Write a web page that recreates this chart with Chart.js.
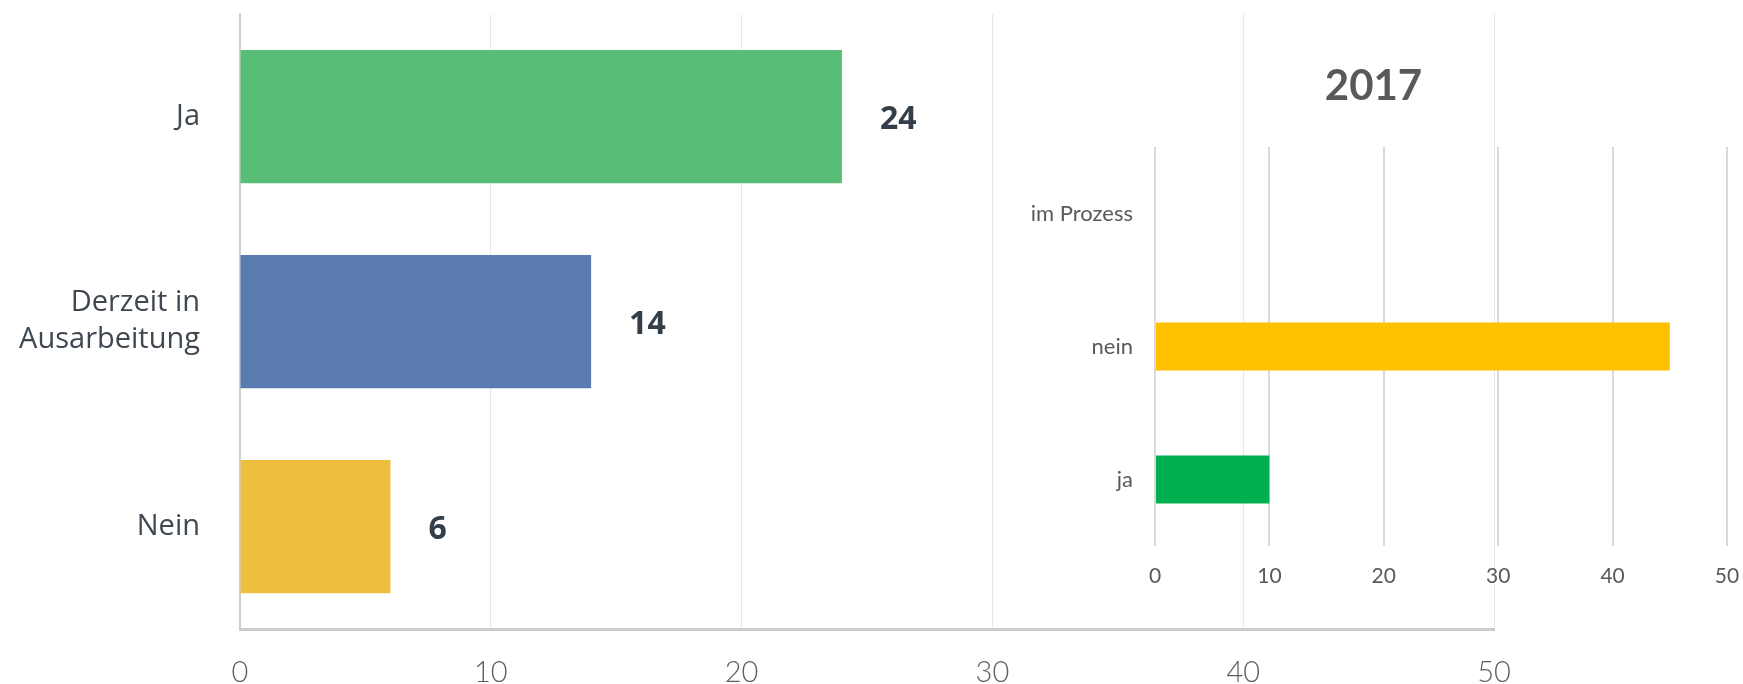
<!DOCTYPE html>
<html>
<head>
<meta charset="utf-8">
<script src="https://cdn.jsdelivr.net/npm/chart.js@4/dist/chart.umd.min.js"></script>
<style>
  html, body { margin: 0; padding: 0; background: #ffffff; width: 1743px; height: 684px; overflow: hidden; }
  #wrap { position: relative; width: 1743px; height: 684px; }
  #main { position: absolute; left: 0; top: 0; }
  #inset { position: absolute; left: 1020px; top: 40px; }
</style>
</head>
<body>
<div id="wrap">
  <canvas id="main" width="1743" height="684"></canvas>
  <canvas id="inset" width="742" height="600"></canvas>
</div>
<script>
// ---- Main chart data ----
const mainCategories = ['Ja', ['Derzeit in', 'Ausarbeitung'], 'Nein'];
const mainValues = [24, 14, 6];
const mainColors = ['#58bd77', '#5a7bb0', '#edbe40'];
const mainTickValues = [0, 10, 20, 30, 40, 50];

// ---- Inset chart (2017) data ----
const insetTitle = '2017';
const insetCategories = ['ja', 'nein', 'im Prozess'];
const insetValues = [10, 45, null];
const insetColors = ['#00b050', '#ffc000', '#a5a5a5'];
const insetTickValues = [0, 10, 20, 30, 40, 50];

const valueLabelPlugin = {
  id: 'valueLabels',
  afterDatasetsDraw(chart) {
    const ctx = chart.ctx;
    const meta = chart.getDatasetMeta(0);
    const data = chart.data.datasets[0].data;
    ctx.save();
    ctx.font = 'bold 32px "Open Sans", "DejaVu Sans", sans-serif';
    ctx.fillStyle = '#333e48';
    ctx.textAlign = 'left';
    ctx.textBaseline = 'middle';
    meta.data.forEach((bar, i) => {
      if (data[i] == null) return;
      ctx.fillText(String(data[i]), bar.x + 38, bar.y + 3);
    });
    ctx.restore();
  }
};

function noVerticalPadding(scale) {
  scale.paddingTop = 0;
  scale.paddingBottom = 0;
}

new Chart(document.getElementById('main'), {
  type: 'bar',
  data: {
    labels: mainCategories,
    datasets: [{
      data: mainValues,
      backgroundColor: mainColors,
      borderWidth: 0,
      barPercentage: 0.65,
      categoryPercentage: 1.0
    }]
  },
  options: {
    indexAxis: 'y',
    responsive: false,
    animation: false,
    layout: { padding: { top: 14, right: 249, bottom: 0, left: 0 } },
    plugins: { legend: { display: false }, tooltip: { enabled: false }, title: { display: false } },
    scales: {
      x: {
        type: 'linear',
        min: 0, max: 50,
        afterBuildTicks(scale) { scale.ticks = mainTickValues.map(v => ({ value: v })); },
        afterFit(scale) { scale.height = 55; },
        grid: { color: '#e8e8e8', lineWidth: 1, drawTicks: false },
        border: { display: true, color: '#cccccc', width: 3 },
        ticks: {
          padding: 26,
          color: '#5f5f5f',
          font: { family: 'Lato, "Open Sans", sans-serif', size: 29, weight: '300' }
        }
      },
      y: {
        afterFit(scale) { scale.width = 240; noVerticalPadding(scale); },
        grid: { display: false, drawTicks: false },
        border: { display: true, color: '#cfcfcf', width: 2 },
        ticks: {
          padding: 40,
          color: '#3f4750',
          font: { family: '"Open Sans", "DejaVu Sans", sans-serif', size: 29, lineHeight: 1.28 }
        }
      }
    }
  },
  plugins: [valueLabelPlugin]
});

new Chart(document.getElementById('inset'), {
  type: 'bar',
  data: {
    labels: insetCategories,
    datasets: [{
      data: insetValues,
      backgroundColor: insetColors,
      borderWidth: 0,
      barPercentage: 0.36,
      categoryPercentage: 1.0
    }]
  },
  options: {
    indexAxis: 'y',
    responsive: false,
    animation: false,
    layout: { padding: { top: 0, right: 35, bottom: 0, left: 0 } },
    plugins: {
      legend: { display: false },
      tooltip: { enabled: false },
      title: {
        display: true,
        text: insetTitle,
        color: '#595959',
        font: { family: 'Lato, "Open Sans", sans-serif', size: 42, weight: 'bold', lineHeight: 1.2 },
        padding: { top: 21, bottom: 35.6 }
      }
    },
    scales: {
      x: {
        type: 'linear',
        min: 0, max: 50,
        afterBuildTicks(scale) { scale.ticks = insetTickValues.map(v => ({ value: v })); },
        afterFit(scale) { scale.height = 94; },
        grid: { color: '#d9d9d9', lineWidth: 2, drawTicks: false },
        border: { display: false },
        ticks: {
          padding: 18,
          color: '#595959',
          font: { family: 'Lato, "Open Sans", sans-serif', size: 21 }
        }
      },
      y: {
        reverse: true,
        afterFit(scale) { scale.width = 135; noVerticalPadding(scale); },
        grid: { display: false, drawTicks: false },
        border: { display: false },
        ticks: {
          padding: 22,
          color: '#595959',
          font: { family: 'Lato, "Open Sans", sans-serif', size: 22 }
        }
      }
    }
  }
});
</script>
</body>
</html>
